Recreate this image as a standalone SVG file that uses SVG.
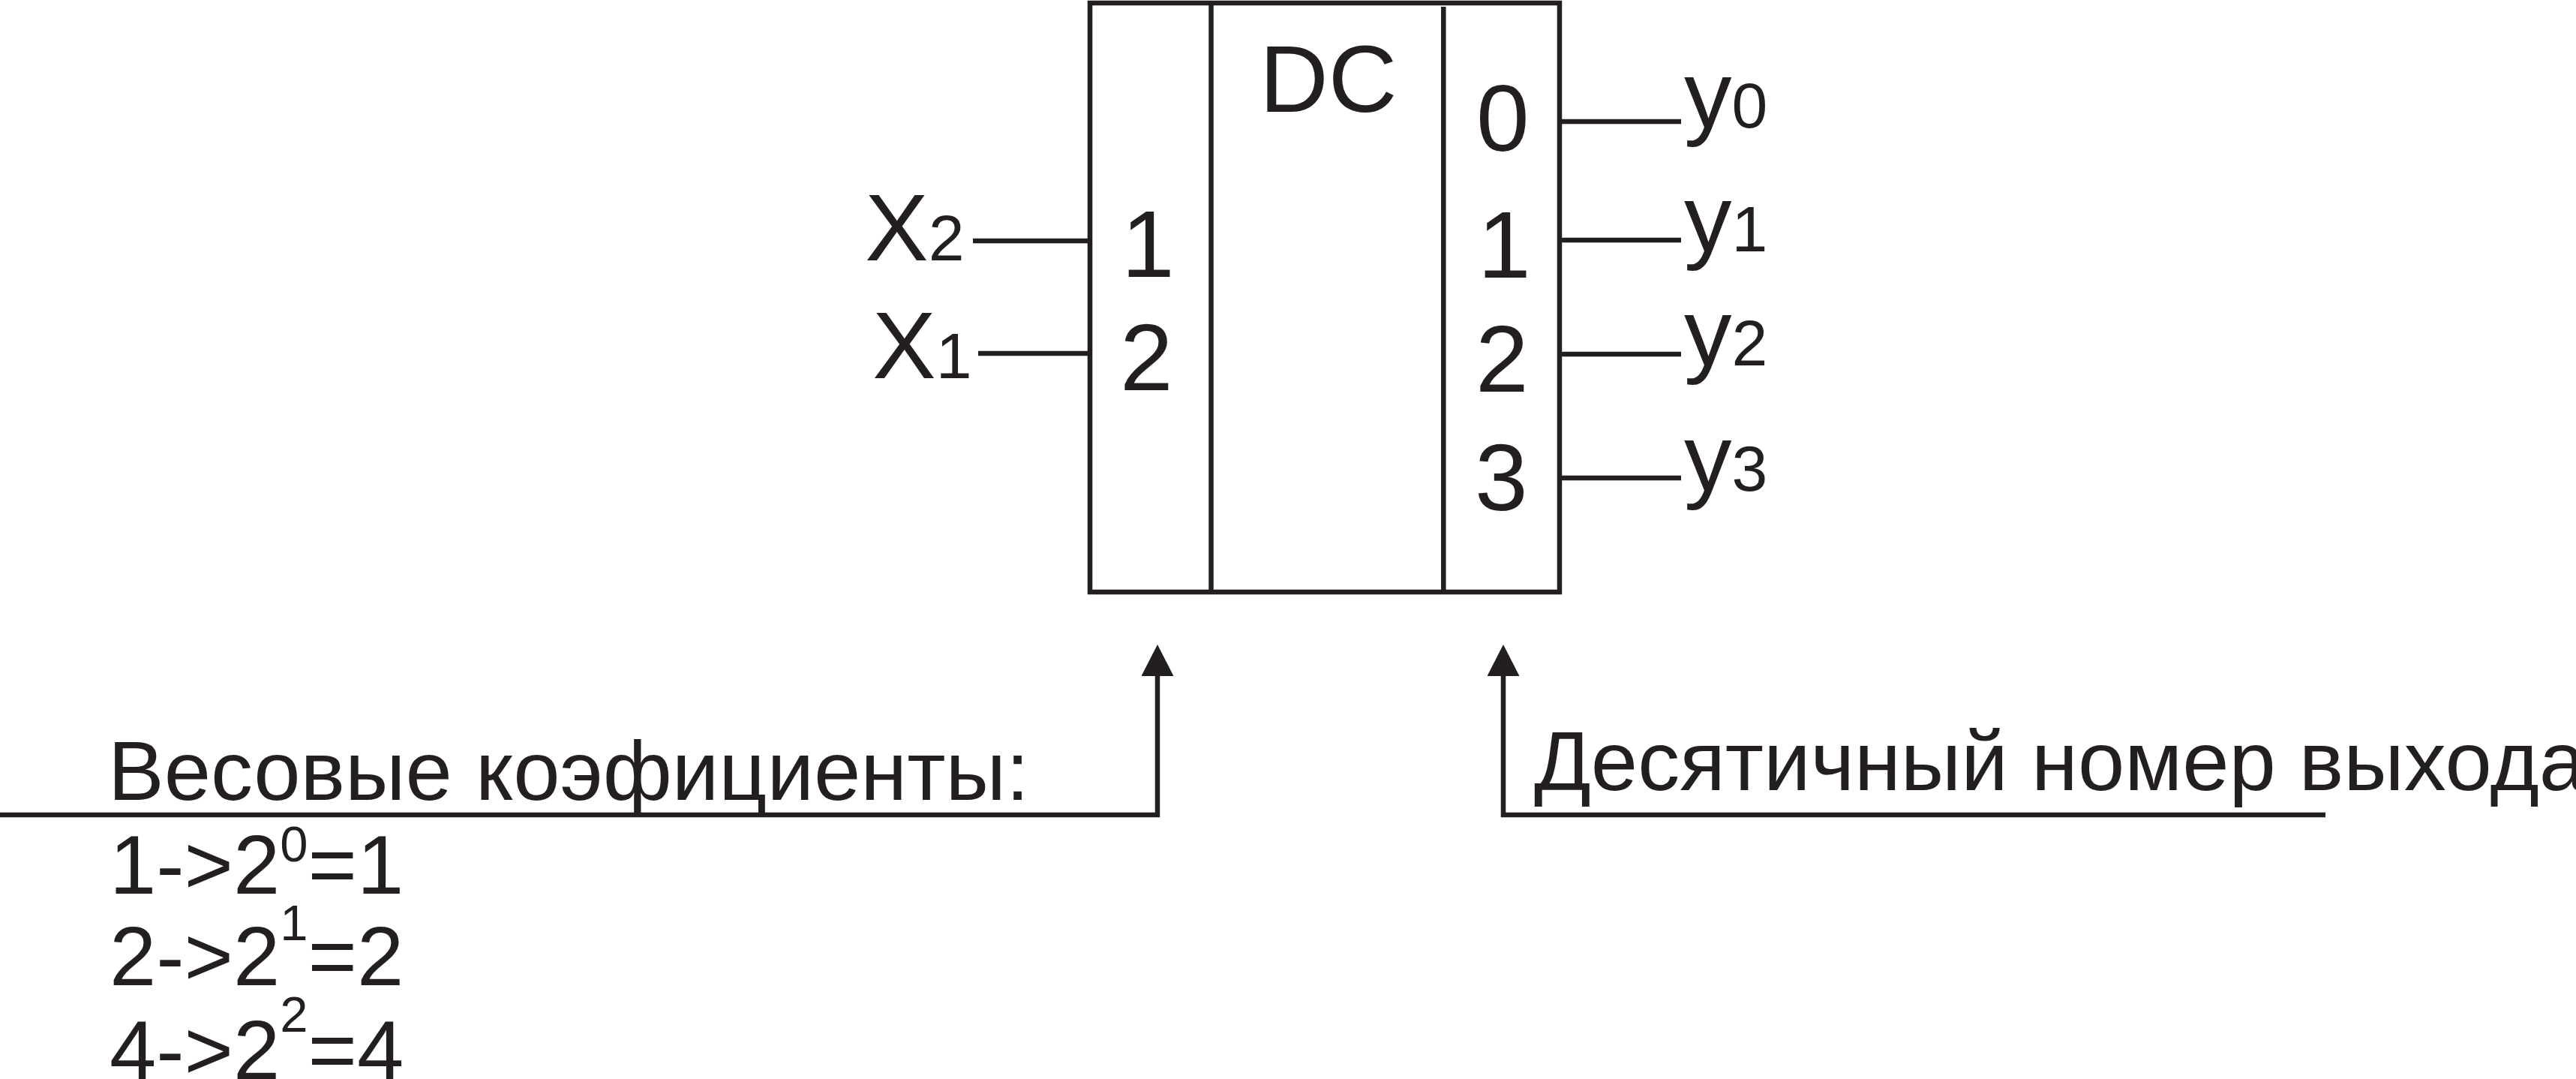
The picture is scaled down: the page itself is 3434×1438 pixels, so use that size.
<svg xmlns="http://www.w3.org/2000/svg" width="3434" height="1438" viewBox="0 0 3434 1438">
<style>
text{font-family:"Liberation Sans",Arial,sans-serif;fill:#231f20}
.n{font-size:127px}
.s{font-size:86px}
.t{font-size:112px}
.sup{font-size:67px}
.ln{stroke:#231f20;stroke-width:6.5;fill:none}
</style>
<defs>
<marker id="ah" markerUnits="userSpaceOnUse" markerWidth="42" markerHeight="43" viewBox="0 0 42 43" refX="0" refY="21.5" orient="auto">
<path d="M0,0 L42,21.5 L0,43 z" fill="#231f20"/>
</marker>
</defs>
<rect width="3434" height="1438" fill="#fff"/>
<g id="decoder">
<rect class="ln" x="1453" y="4" width="626" height="785"/>
<line class="ln" x1="1614.5" y1="4" x2="1614.5" y2="789"/>
<line class="ln" x1="1924.3" y1="9" x2="1924.3" y2="789"/>
<text class="n" x="1679" y="149">DC</text>
<text class="n" x="1495" y="369">1</text>
<text class="n" x="1493" y="520">2</text>
<text class="n" x="1968" y="201">0</text>
<text class="n" x="1970" y="370">1</text>
<text class="n" x="1967" y="522">2</text>
<text class="n" x="1966" y="680">3</text>
</g>
<g id="inputs">
<text class="n" x="1153" y="347">X<tspan class="s">2</tspan></text>
<text class="n" x="1163" y="504">X<tspan class="s">1</tspan></text>
</g>
<g id="outputs">
<text class="n" x="2245" y="170">y<tspan class="s">0</tspan></text>
<text class="n" x="2245" y="335">y<tspan class="s">1</tspan></text>
<text class="n" x="2245" y="487">y<tspan class="s">2</tspan></text>
<text class="n" x="2245" y="654">y<tspan class="s">3</tspan></text>
</g>
<g id="weights">
<text class="t" x="144" y="1066">Весовые коэфициенты:</text>
<text class="t" x="146" y="1191">1-&gt;2<tspan class="sup" y="1148">0</tspan><tspan y="1191">=1</tspan></text>
<text class="t" x="146" y="1313">2-&gt;2<tspan class="sup" y="1253">1</tspan><tspan y="1313">=2</tspan></text>
<text class="t" x="146" y="1438">4-&gt;2<tspan class="sup" y="1375">2</tspan><tspan y="1438">=4</tspan></text>
</g>
<g id="outnum">
<text class="t" x="2045" y="1053">Десятичный номер выхода</text>
</g>
<g id="connectors">
<line class="ln" x1="1297" y1="321" x2="1453" y2="321"/>
<line class="ln" x1="1304" y1="471" x2="1453" y2="471"/>
<line class="ln" x1="2079" y1="162" x2="2241" y2="162"/>
<line class="ln" x1="2079" y1="320" x2="2241" y2="320"/>
<line class="ln" x1="2079" y1="472" x2="2241" y2="472"/>
<line class="ln" x1="2079" y1="637" x2="2241" y2="637"/>
<polyline class="ln" points="0,1086 1543,1086 1543,901" marker-end="url(#ah)"/>
<polyline class="ln" points="3100,1086 2004,1086 2004,901" marker-end="url(#ah)"/>
</g>
</svg>
